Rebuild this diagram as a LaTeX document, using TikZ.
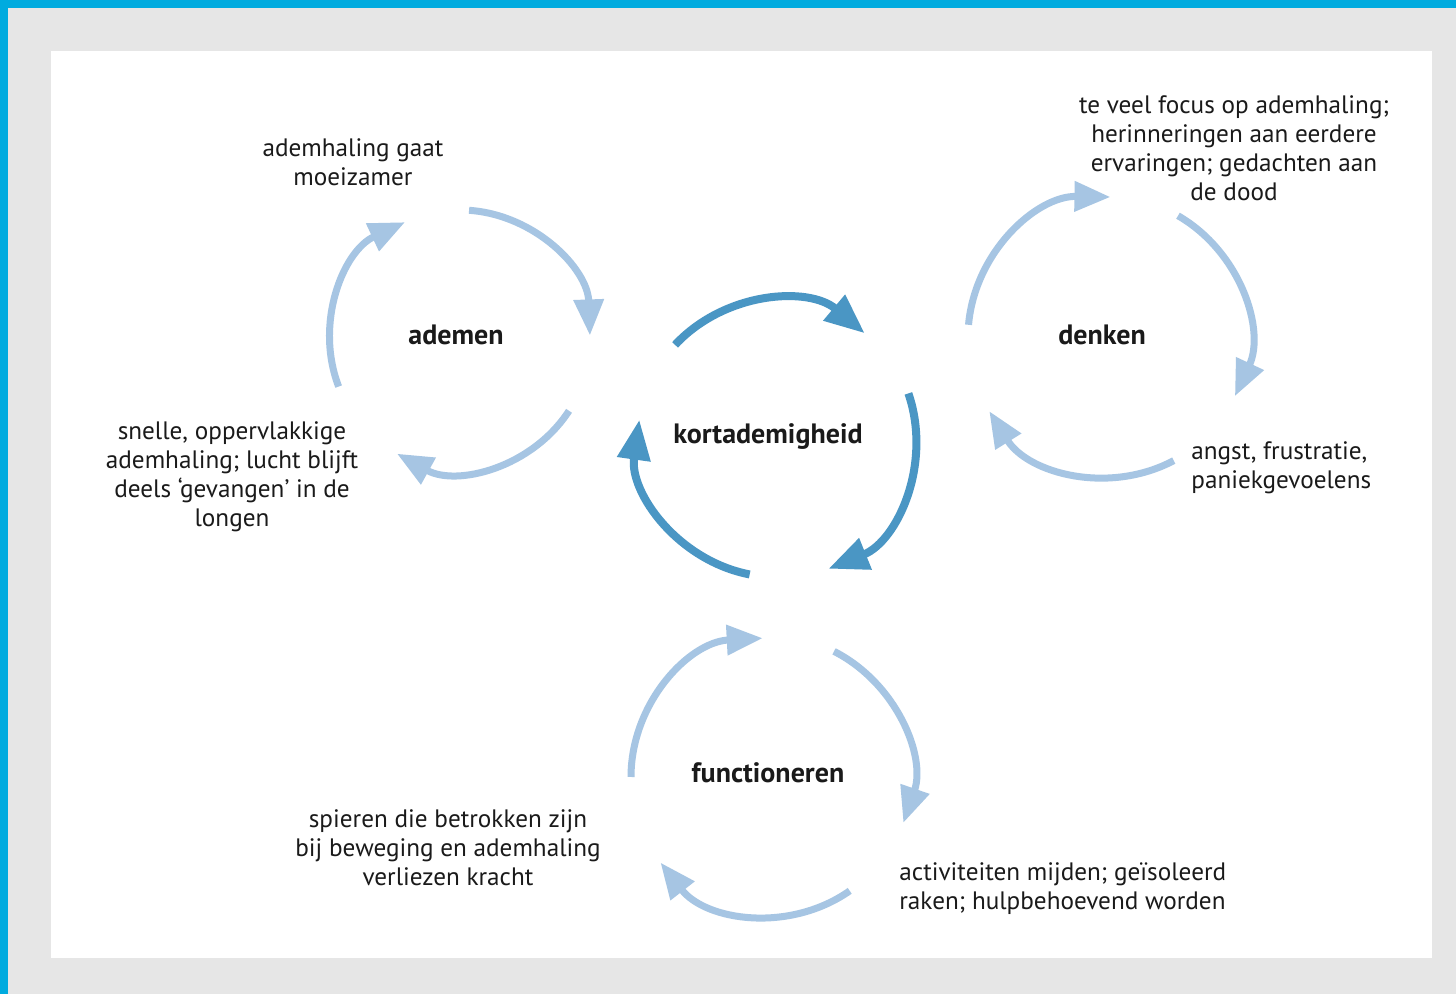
\documentclass[tikz,border=0pt]{standalone}
\usepackage{fontspec}
\setmainfont{PT Sans}
\usetikzlibrary{arrows.meta,calc}
\definecolor{frameblue}{RGB}{0,171,223}
\definecolor{panelgrey}{RGB}{230,230,230}
\definecolor{darkarrow}{RGB}{74,150,196}
\definecolor{lightarrow}{RGB}{166,197,227}
\definecolor{inktext}{RGB}{26,26,26}

\begin{document}
\begin{tikzpicture}[x=0.5pt,y=0.5pt,
  mainloop/.style={line width=4pt,darkarrow,-{Triangle[length=20pt,width=16pt]}},
  subloop/.style={line width=3.5pt,lightarrow,-{Triangle[length=18pt,width=14.5pt]}},
  cyclename/.style={font=\bfseries\fontsize{14}{16}\selectfont,text=inktext,inner sep=0pt},
  effect/.style={align=center,font=\fontsize{12.6}{14.5}\selectfont,text=inktext,inner sep=0pt}]
% Frame and panel
\fill[panelgrey] (0,0) rectangle (1456,994);
\fill[frameblue] (0,986) rectangle (1456,994);
\fill[frameblue] (0,0) rectangle (8,994);
\fill[white] (51,36) rectangle (1432,943);
\useasboundingbox (0,0) rectangle (1456,994);

% Cycle centres
\coordinate (kort) at (776,555);
\coordinate (adem) at (460,654);
\coordinate (denk) at (1108,657);
\coordinate (funct) at (770,217);

% Central cycle
\draw[mainloop] ($(kort)+(137:138)$) arc[start angle=137,end angle=50,radius=138];
\draw[mainloop] ($(kort)+(19:140)$) arc[start angle=19,end angle=-68,radius=140];
\draw[mainloop] ($(kort)+(259:138)$) arc[start angle=259,end angle=172,radius=138];
\node[cyclename] (kortname) at (768,557) {kortademigheid};

% Ademen
\draw[subloop] ($(adem)+(86:130)$) arc[start angle=86,end angle=2,radius=130];
\draw[subloop] ($(adem)+(-33:130)$) arc[start angle=-33,end angle=-119,radius=130];
\draw[subloop] ($(adem)+(201:130)$) arc[start angle=201,end angle=115,radius=130];
\node[cyclename] (ademname) at (456,659) {ademen};
\node[effect] (moeizaam) at (353,832) {ademhaling gaat\\moeizamer};
\node[effect] (oppervlak) at (232,517) {snelle, oppervlakkige\\ademhaling; lucht blijft\\deels ‘gevangen’ in de\\longen};

% Denken
\draw[subloop] ($(denk)+(175:140)$) arc[start angle=175,end angle=89,radius=140];
\draw[subloop] ($(denk)+(60:140)$) arc[start angle=60,end angle=-25,radius=140];
\draw[subloop] ($(denk)+(-62:140)$) arc[start angle=-62,end angle=-148,radius=140];
\node[cyclename] (denkname) at (1102,659) {denken};
\node[effect] (focus) at (1234,846) {te veel focus op ademhaling;\\herinneringen aan eerdere\\ervaringen; gedachten aan\\de dood};
\node[effect,align=left,anchor=west] (angst) at (1191,526) {angst, frustratie,\\paniekgevoelens};

% Functioneren
\draw[subloop] ($(funct)+(180:139)$) arc[start angle=180,end angle=93,radius=139];
\draw[subloop] ($(funct)+(63:141)$) arc[start angle=63,end angle=-19,radius=141];
\draw[subloop] ($(funct)+(-55:139)$) arc[start angle=-55,end angle=-142,radius=139];
\node[cyclename] (functname) at (768,221) {functioneren};
\node[effect] (spieren) at (448,146) {spieren die betrokken zijn\\bij beweging en ademhaling\\verliezen kracht};
\node[effect,align=left,anchor=west] (mijden) at (899,105) {activiteiten mijden; geïsoleerd\\raken; hulpbehoevend worden};
\end{tikzpicture}
\end{document}
